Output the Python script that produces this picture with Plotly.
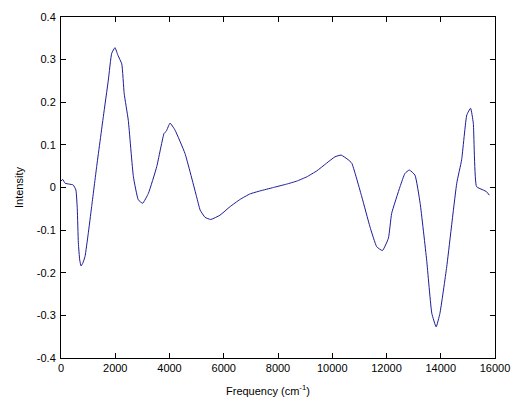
import plotly.graph_objects as go

frequency = [0, 60, 150, 300, 450, 550, 600, 640, 690, 740, 800, 885, 1000, 1130,
             1315, 1560, 1745, 1870, 1990, 2100, 2240, 2330, 2480, 2670, 2850, 3010,
             3220, 3530, 3800, 3880, 4020, 4200, 4570, 5000, 5130, 5310, 5520, 5860,
             6230, 6600, 6970, 7340, 7830, 8320, 8690, 9060, 9430, 9790, 10100, 10330,
             10590, 10720, 11090, 11390, 11640, 11850, 12070, 12190, 12500, 12680,
             12840, 13050, 13240, 13480, 13670, 13830, 13970, 14220, 14590, 14770,
             14960, 15100, 15200, 15320, 15570, 15690, 15790]
intensity = [0.015, 0.019, 0.010, 0.008, 0.006, -0.006, -0.05, -0.13, -0.17, -0.184,
             -0.178, -0.162, -0.11, -0.045, 0.049, 0.166, 0.252, 0.315, 0.328, 0.31,
             0.29, 0.22, 0.158, 0.025, -0.029, -0.037, -0.014, 0.049, 0.127, 0.132,
             0.151, 0.135, 0.080, -0.022, -0.053, -0.070, -0.075, -0.065, -0.045,
             -0.028, -0.015, -0.008, 0.0, 0.008, 0.015, 0.025, 0.039, 0.057, 0.072,
             0.076, 0.065, 0.057, -0.022, -0.092, -0.139, -0.148, -0.119, -0.061,
             0.002, 0.033, 0.041, 0.029, -0.037, -0.17, -0.295, -0.327, -0.295,
             -0.186, 0.010, 0.065, 0.170, 0.186, 0.151, 0.002, -0.006, -0.010, -0.018]

x_ticks = [0, 2000, 4000, 6000, 8000, 10000, 12000, 14000, 16000]
y_ticks = [-0.4, -0.3, -0.2, -0.1, 0, 0.1, 0.2, 0.3, 0.4]
y_tick_labels = ["-0.4", "-0.3", "-0.2", "-0.1", "0", "0.1", "0.2", "0.3", "0.4"]

fig = go.Figure(go.Scatter(x=frequency, y=intensity, mode="lines",
                           line=dict(color="#1c1c96", width=1, shape="spline", smoothing=0.4)))

axis_common = dict(showline=True, linecolor="black", linewidth=1, mirror="ticks",
                   ticks="inside", ticklen=5, tickcolor="black", showgrid=False,
                   zeroline=False, automargin=False,
                   tickfont=dict(size=11, color="black"))

fig.update_xaxes(range=[0, 16000], tickvals=x_ticks,
                 ticktext=[str(v) for v in x_ticks], **axis_common)
fig.update_yaxes(range=[-0.4, 0.4], tickvals=y_ticks, ticktext=y_tick_labels,
                 ticklabelstandoff=2,
                 title=dict(text="Intensity", font=dict(size=11, color="black"), standoff=10),
                 **axis_common)

fig.add_annotation(text="Frequency (cm<sup>-1</sup>)", xref="paper", yref="paper",
                   x=0.477, y=-0.094, xanchor="center", yanchor="middle",
                   showarrow=False, font=dict(size=11, color="black"))

fig.update_layout(width=518, height=401, margin=dict(l=61, r=23, t=17, b=43),
                  paper_bgcolor="white", plot_bgcolor="white", showlegend=False,
                  font=dict(family="Liberation Sans, Arial, sans-serif", size=11, color="black"))

fig.write_html("out.html", config={"displayModeBar": False},
               post_script="document.body.style.margin='0';document.body.style.overflow='hidden';")
